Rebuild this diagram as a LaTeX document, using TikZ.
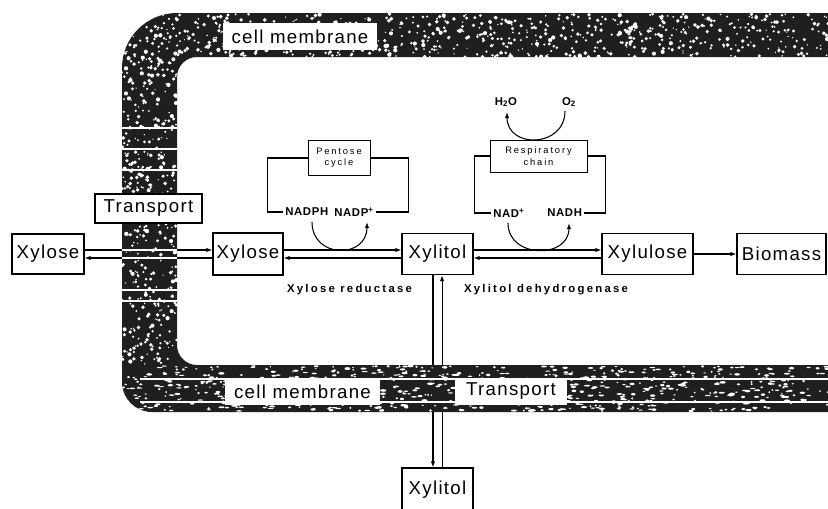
\documentclass[tikz,border=0pt]{standalone}
\usepackage{fontspec}
\setmainfont{Liberation Sans}
\newfontfamily\labfont[LetterSpace=7]{Liberation Sans}
\newfontfamily\smlfont[LetterSpace=20]{Liberation Sans}
\newfontfamily\nadfont[LetterSpace=6]{Liberation Sans}
\usetikzlibrary{arrows.meta}
\pgfdeclarelayer{conn}
\pgfsetlayers{conn,main}
\begin{document}
\begin{tikzpicture}[x=0.75pt,y=-0.75pt,
  box/.style={draw, line width=0.8pt, fill=white, inner sep=0pt, font=\labfont\fontsize{14}{16}\selectfont},
  memlabel/.style={fill=white, inner sep=0pt, font=\labfont\fontsize{14}{16}\selectfont},
  cbox/.style={draw, line width=0.7pt, fill=white, inner sep=0pt, align=center, font=\smlfont\fontsize{7}{8.5}\selectfont},
  small/.style={inner sep=1.5pt, font=\smlfont\bfseries\fontsize{8.5}{10}\selectfont},
  nadlab/.style={inner sep=1.5pt, anchor=west, font=\nadfont\bfseries\fontsize{8.5}{10}\selectfont},
  conn/.style={line width=0.8pt},
  tip/.style={conn, -{Latex[length=4.5pt,width=3.2pt]}},
  memfill/.style={fill=black!88},
  stripe/.style={white, line width=1.2pt}
]
\useasboundingbox (0,0) rectangle (828,508);
% membrane
\fill[memfill, even odd rule] (830,13) -- (177,13) .. controls (146.6,13) and (122,37.6) .. (122,68) -- (122,382) .. controls (122,398.6) and (135.4,412) .. (152,412) -- (830,412) -- cycle
 (830,57) -- (197,57) .. controls (186,57) and (177,66) .. (177,77) -- (177,345) .. controls (177,356) and (186,365) .. (197,365) -- (830,365) -- cycle;
\pgfmathsetseed{7}
\begin{scope}
\clip (830,13) -- (177,13) .. controls (146.6,13) and (122,37.6) .. (122,68) -- (122,382) .. controls (122,398.6) and (135.4,412) .. (152,412) -- (830,412) -- cycle;
\foreach \i in {1,...,750}{
  \pgfmathsetmacro\dx{120+708*rnd}
  \pgfmathsetmacro\dy{14+43*rnd}
  \pgfmathsetmacro\dr{0.5+1.1*rnd}
  \fill[white] (\dx,\dy) circle[radius=\dr pt];
}
\foreach \i in {1,...,420}{
  \pgfmathsetmacro\dx{122+55*rnd}
  \pgfmathsetmacro\dy{57+308*rnd}
  \pgfmathsetmacro\dr{0.5+1.1*rnd}
  \fill[white] (\dx,\dy) circle[radius=\dr pt];
}
\foreach \i in {1,...,750}{
  \pgfmathsetmacro\dx{120+708*rnd}
  \pgfmathsetmacro\dy{366+45*rnd}
  \pgfmathsetmacro\rx{0.6+1.8*rnd}
  \pgfmathsetmacro\ry{0.4+0.6*rnd}
  \fill[white] (\dx,\dy) ellipse[x radius=\rx pt, y radius=\ry pt];
}
\end{scope}
\foreach \yy in {128,149,170,250,258,290,301}{
  \draw[stripe] (122,\yy) -- (177,\yy);
}
\draw[stripe] (140,379) -- (828,379);
\draw[stripe] (140,402) -- (828,402);

% nodes
\node[box, minimum width=54pt, minimum height=30pt] (xl) at (48,254) {Xylose};
\node[box, minimum width=80.25pt, minimum height=21.75pt] (tr1) at (148.5,208.5) {Transport};
\node[box, minimum width=52.5pt, minimum height=31.5pt] (xi) at (248,254) {Xylose};
\node[box, minimum width=53.25pt, minimum height=30.75pt] (xt) at (437.5,254) {Xylitol};
\node[box, minimum width=68.25pt, minimum height=30.75pt] (xu) at (647.5,254) {Xylulose};
\node[box, minimum width=66.75pt, minimum height=30.75pt] (bm) at (781.5,254) {Biomass};
\node[box, minimum width=53.25pt, minimum height=33pt] (xb) at (437.5,490) {Xylitol};
\node[memlabel, minimum width=115.5pt, minimum height=20.25pt] (cm1) at (300,36.5) {cell membrane};
\node[memlabel, minimum width=116.25pt, minimum height=20.25pt] (cm2) at (302.5,391.5) {cell membrane};
\node[memlabel, minimum width=84pt, minimum height=20.25pt] (tr2) at (511,391.5) {Transport};
\node[cbox, minimum width=46.5pt, minimum height=26.25pt] (pc) at (339,158) {Pentose\\cycle};
\node[cbox, minimum width=72.75pt, minimum height=24pt] (rc) at (538.5,156) {Respiratory\\chain};
\node[nadlab] (nadph) at (283,212) {NADPH};
\node[nadlab] (nadp) at (332,212) {NADP\textsuperscript{+}};
\node[nadlab] (nad) at (491,213) {NAD\textsuperscript{+}};
\node[nadlab] (nadh) at (545,213) {NADH};
\node[small] (h2o) at (506,102) {H\textsubscript{2}O};
\node[small] (o2) at (569,102) {O\textsubscript{2}};
\node[small] (xr) at (349.5,290) {Xylose reductase};
\node[small] (xd) at (546,290) {Xylitol dehydrogenase};
\coordinate (a1s) at (312,222);
\coordinate (a1e) at (367,222);
\coordinate (a2s) at (508,223);
\coordinate (a2e) at (569,223);
\coordinate (a3s) at (565,111);
\coordinate (a3e) at (507,112);

\begin{pgfonlayer}{conn}
\draw[tip] ([yshift=3pt]xl.east) -- ([yshift=3pt]xi.west);
\draw[tip] ([yshift=-3pt]xi.west) -- ([yshift=-3pt]xl.east);
\draw[tip] ([yshift=3pt]xi.east) -- ([yshift=3pt]xt.west);
\draw[tip] ([yshift=-3pt]xt.west) -- ([yshift=-3pt]xi.east);
\draw[tip] ([yshift=3pt]xt.east) -- ([yshift=3pt]xu.west);
\draw[tip] ([yshift=-3pt]xu.west) -- ([yshift=-3pt]xt.east);
\draw[tip] (xu) -- (bm);
\draw[tip] ([xshift=-3.4pt]xt.south) -- ([xshift=-3.4pt]xb.north);
\draw[tip] ([xshift=3.4pt]xb.north) -- ([xshift=3.4pt]xt.south);
\draw[conn] (pc.west) -- ++(-40,0) |- (nadph.west);
\draw[conn] (pc.east) -- ++(38,0) |- (nadp.east |- nadph.east);
\draw[conn] (rc.west) -- ++(-15,0) |- (nad.west |- nadh.west);
\draw[conn] (rc.east) -- ++(18,0) |- (nadh.east);
\draw[tip] (a1s) .. controls +(0,37) and +(0,37) .. (a1e);
\draw[tip] (a2s) .. controls +(0,36) and +(0,36) .. (a2e);
\draw[tip] (a3s) .. controls +(0,37) and +(0,37) .. (a3e);
\end{pgfonlayer}
\end{tikzpicture}
\end{document}
